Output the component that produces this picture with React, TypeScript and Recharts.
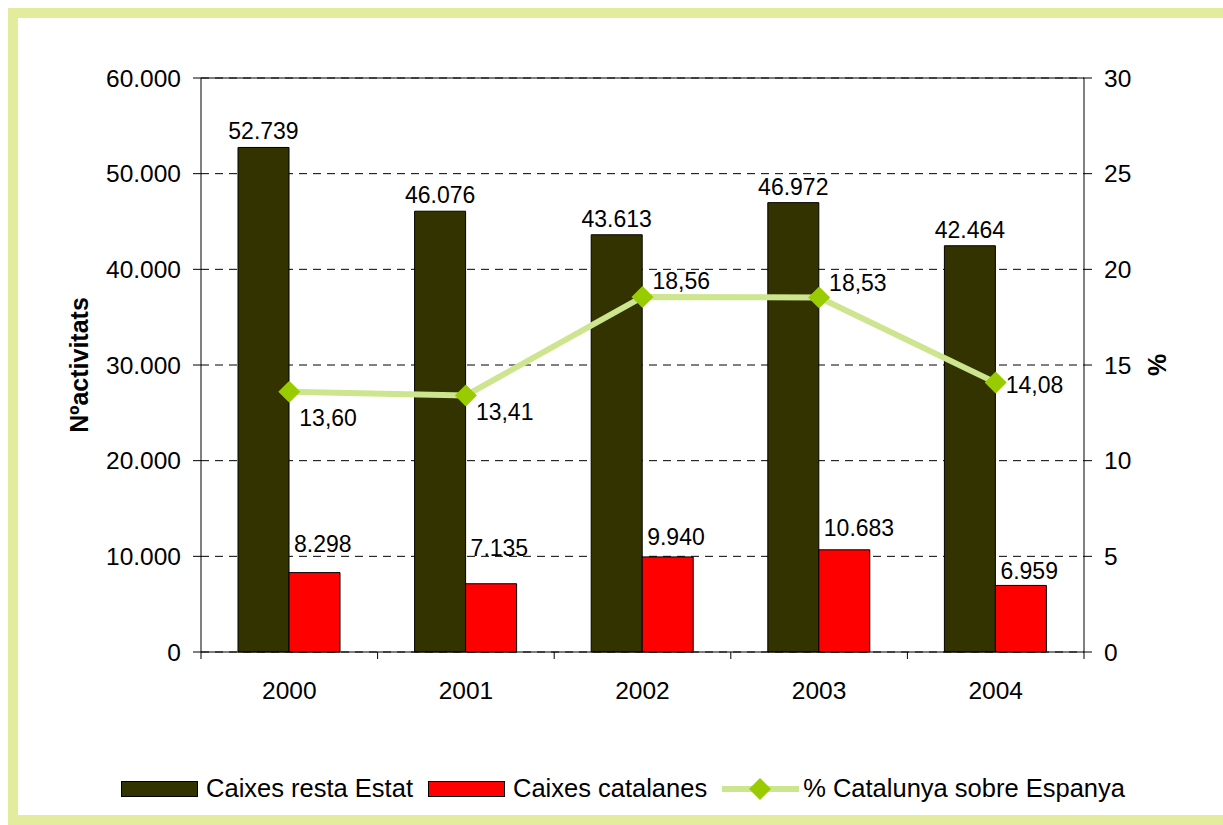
import React from 'react';
import { ComposedChart, Bar, Line, XAxis, YAxis, CartesianGrid, ReferenceLine, LabelList } from 'recharts';

const years = ['2000', '2001', '2002', '2003', '2004'];
const caixesRestaEstat = [52739, 46076, 43613, 46972, 42464];
const caixesCatalanes = [8298, 7135, 9940, 10683, 6959];
const pctCatalunya = [13.6, 13.41, 18.56, 18.53, 14.08];
const leftTicks = [0, 10000, 20000, 30000, 40000, 50000, 60000];
const rightTicks = [0, 5, 10, 15, 20, 25, 30];

const data = years.map((year, i) => ({
    year,
    resta: caixesRestaEstat[i],
    catalanes: caixesCatalanes[i],
    pct: pctCatalunya[i],
}));

const FONT = '"Liberation Sans", Arial, sans-serif';
const DARK = '#333300';
const RED = '#ff0000';
const LINE = '#cde58e';
const DIAMOND = '#99cc00';

const CHART_W = 1205;
const CHART_H = 700;
const PLOT_LEFT = 183;
const PLOT_RIGHT = 1066;
const BAND = (PLOT_RIGHT - PLOT_LEFT) / years.length;
const TICK_FS = 24.5;
const LABEL_FS = 23;

const fmtThousands = (v: number) => (v === 0 ? '0' : v.toLocaleString('de-DE'));
const fmtPct = (v: number) => v.toFixed(2).replace('.', ',');

const Diamond = (props: any) => {
    const { cx, cy } = props;
    if (cx == null || cy == null) return null;
    const r = 11;
    return <polygon points={`${cx},${cy - r} ${cx + r},${cy} ${cx},${cy + r} ${cx - r},${cy}`} fill={DIAMOND} />;
};

// label placement offsets, as Excel laid them out
const pctLabelDy = [26, 17, -16, -14, 2];
const redLabelDy = [-29, -36, -20, -22, -14];

const PctLabel = (props: any) => {
    const { x, y, value, index } = props;
    return (
        <text x={x + 10} y={y + pctLabelDy[index]} textAnchor="start" dominantBaseline="central" fontSize={LABEL_FS} fontFamily={FONT} fill="#000">
            {fmtPct(value)}
        </text>
    );
};

const RedLabel = (props: any) => {
    const { x, y, value, index } = props;
    return (
        <text x={x + 5} y={y + redLabelDy[index]} textAnchor="start" dominantBaseline="central" fontSize={LABEL_FS} fontFamily={FONT} fill="#000">
            {fmtThousands(value)}
        </text>
    );
};

const XTick = (props: any) => {
    const { x, y, payload, index } = props;
    return (
        <g>
            <line x1={x - BAND / 2} x2={x - BAND / 2} y1={y} y2={y + 7} stroke="#000" />
            {index === years.length - 1 && <line x1={x + BAND / 2} x2={x + BAND / 2} y1={y} y2={y + 7} stroke="#000" />}
            <text x={x} y={y + 38} textAnchor="middle" dominantBaseline="central" fontSize={TICK_FS} fontFamily={FONT} fill="#000">
                {payload.value}
            </text>
        </g>
    );
};

const LegendItem: React.FC<{ kind: 'bar' | 'line'; color: string; label: string; gap: number }> = ({ kind, color, label, gap }) => (
    <div style={{ display: 'flex', alignItems: 'center', marginRight: 15 }}>
        {kind === 'bar' ? (
            <div style={{ width: 75, height: 14, background: color, border: '1px solid #000' }} />
        ) : (
            <svg width={77} height={24}>
                <line x1={0} x2={77} y1={12} y2={12} stroke={LINE} strokeWidth={6} />
                <polygon points="38,1 49,12 38,23 27,12" fill={DIAMOND} />
            </svg>
        )}
        <span style={{ marginLeft: gap, fontSize: 25.5, fontFamily: FONT, color: '#000' }}>{label}</span>
    </div>
);

const App: React.FC = () => {
    return (
        <div style={{ position: 'absolute', left: 8, top: 8, width: 1205, height: 797, border: '10px solid #e2ec9c', background: '#fff' }}>
            <ComposedChart
                width={CHART_W}
                height={CHART_H}
                data={data}
                margin={{ top: 60, right: 59, left: 103, bottom: 26 }}
                barGap={0}
            >
                <CartesianGrid yAxisId="left" vertical={false} stroke="#000" strokeDasharray="8 6" />
                <XAxis dataKey="year" axisLine={{ stroke: '#000' }} tickLine={false} tickSize={0} tickMargin={0} height={40} tick={<XTick />} />
                <YAxis
                    yAxisId="left"
                    width={80}
                    domain={[0, 60000]}
                    ticks={leftTicks}
                    tickFormatter={fmtThousands}
                    axisLine={{ stroke: '#000' }}
                    tickLine={{ stroke: '#000' }}
                    tickSize={8}
                    tickMargin={12}
                    tick={{ fontSize: TICK_FS, fontFamily: FONT, fill: '#000' }}
                    label={{
                        content: () => (
                            <text transform="translate(61, 347) rotate(-90)" textAnchor="middle" dominantBaseline="central" fontSize={25} fontWeight="bold" fontFamily={FONT} fill="#000">
                                Nºactivitats
                            </text>
                        ),
                    }}
                />
                <YAxis
                    yAxisId="right"
                    orientation="right"
                    width={80}
                    domain={[0, 30]}
                    ticks={rightTicks}
                    axisLine={{ stroke: '#000' }}
                    tickLine={{ stroke: '#000' }}
                    tickSize={8}
                    tickMargin={12}
                    tick={{ fontSize: TICK_FS, fontFamily: FONT, fill: '#000' }}
                    label={{
                        content: () => (
                            <text transform="translate(1139, 347) rotate(-90)" textAnchor="middle" dominantBaseline="central" fontSize={25} fontWeight="bold" fontFamily={FONT} fill="#000">
                                %
                            </text>
                        ),
                    }}
                />
                <ReferenceLine yAxisId="left" y={60000} stroke="#000" />
                <Bar yAxisId="left" dataKey="resta" fill={DARK} stroke="#000" strokeWidth={1} barSize={51} isAnimationActive={false}>
                    <LabelList dataKey="resta" position="top" offset={8} formatter={(v: any) => fmtThousands(v)} style={{ fontSize: LABEL_FS, fontFamily: FONT, fill: '#000' }} />
                </Bar>
                <Bar yAxisId="left" dataKey="catalanes" fill={RED} stroke="#000" strokeWidth={1} barSize={51} isAnimationActive={false}>
                    <LabelList dataKey="catalanes" content={<RedLabel />} />
                </Bar>
                <Line yAxisId="right" type="linear" dataKey="pct" stroke={LINE} strokeWidth={6} dot={<Diamond />} activeDot={false} isAnimationActive={false}>
                    <LabelList dataKey="pct" content={<PctLabel />} />
                </Line>
            </ComposedChart>
            <div style={{ position: 'absolute', left: 10, width: '100%', top: 756, display: 'flex', justifyContent: 'center' }}>
                <LegendItem kind="bar" color={DARK} label="Caixes resta Estat" gap={8} />
                <LegendItem kind="bar" color={RED} label="Caixes catalanes" gap={8} />
                <LegendItem kind="line" color={LINE} label="% Catalunya sobre Espanya" gap={4} />
            </div>
        </div>
    );
};

export default App;
